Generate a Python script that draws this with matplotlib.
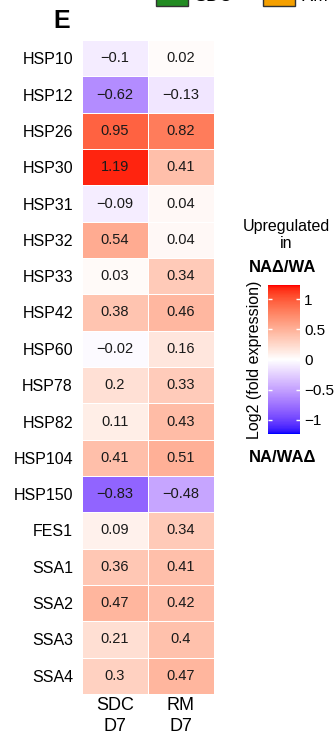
import numpy as np
import matplotlib
matplotlib.use("Agg")
import matplotlib.pyplot as plt
from matplotlib.colors import ListedColormap, Normalize
from matplotlib.cm import ScalarMappable
from matplotlib.patches import Rectangle

plt.rcParams['font.family'] = ['Liberation Sans', 'DejaVu Sans']

genes = ["HSP10", "HSP12", "HSP26", "HSP30", "HSP31", "HSP32", "HSP33", "HSP42",
         "HSP60", "HSP78", "HSP82", "HSP104", "HSP150", "FES1", "SSA1", "SSA2",
         "SSA3", "SSA4"]
conditions = ["SDC\nD7", "RM\nD7"]
sdc_d7 = [-0.1, -0.62, 0.95, 1.19, -0.09, 0.54, 0.03, 0.38, -0.02, 0.2, 0.11,
          0.41, -0.83, 0.09, 0.36, 0.47, 0.21, 0.3]
rm_d7 = [0.02, -0.13, 0.82, 0.41, 0.04, 0.04, 0.34, 0.46, 0.16, 0.33, 0.43,
         0.51, -0.48, 0.34, 0.41, 0.42, 0.4, 0.47]
cbar_ticks = [-1, -0.5, 0, 0.5, 1]
legend_groups = ["SDC", "RM"]
legend_colors = ["#228B22", "#F5A000"]

W, H = 336, 737
fig = plt.figure(figsize=(W / 100, H / 100), dpi=100)


def box(x0, y0, x1, y1):
    """Pixel box (from top-left) -> figure rect."""
    return [x0 / W, 1 - y1 / H, (x1 - x0) / W, (y1 - y0) / H]


def fx(x):
    return x / W


def fy(y):
    return 1 - y / H


# --- blue-white-red ramp interpolated in CIE Lab ---
def _lin(c):
    return np.where(c <= 0.04045, c / 12.92, ((c + 0.055) / 1.055) ** 2.4)


def _gam(c):
    c = np.clip(c, 0, 1)
    return np.where(c <= 0.0031308, 12.92 * c, 1.055 * c ** (1 / 2.4) - 0.055)


_M = np.array([[0.4124, 0.3576, 0.1805], [0.2126, 0.7152, 0.0722], [0.0193, 0.1192, 0.9505]])
_Mi = np.linalg.inv(_M)
_WP = np.array([0.95047, 1.0, 1.08883])


def rgb2lab(rgb):
    xyz = _M @ _lin(np.asarray(rgb, float)) / _WP
    f = np.where(xyz > 0.008856, np.cbrt(xyz), 7.787 * xyz + 16 / 116)
    return np.array([116 * f[1] - 16, 500 * (f[0] - f[1]), 200 * (f[1] - f[2])])


def lab2rgb(lab):
    L, a, b = lab
    fy_ = (L + 16) / 116
    fx_ = fy_ + a / 500
    fz_ = fy_ - b / 200
    f = np.array([fx_, fy_, fz_])
    xyz = np.where(f ** 3 > 0.008856, f ** 3, (f - 16 / 116) / 7.787) * _WP
    return _gam(_Mi @ xyz)


lab_b, lab_w, lab_r = rgb2lab([0, 0, 1]), rgb2lab([1, 1, 1]), rgb2lab([1, 0, 0])
colors = []
for t in np.linspace(0, 1, 256):
    if t < 0.5:
        lab = lab_b + (lab_w - lab_b) * (t / 0.5)
    else:
        lab = lab_w + (lab_r - lab_w) * ((t - 0.5) / 0.5)
    colors.append(lab2rgb(lab))
cmap = ListedColormap(colors)
vlim = 1.24
norm = Normalize(-vlim, vlim)

# --- heatmap ---
data = np.column_stack([sdc_d7, rm_d7])
ax = fig.add_axes(box(82, 40, 214, 694))
ax.pcolormesh(data, cmap=cmap, norm=norm, edgecolors="white", linewidth=0.6)
ax.set_xlim(0, 2)
ax.set_ylim(len(genes), 0)
for i in range(len(genes)):
    for j in range(2):
        v = data[i, j]
        ax.text(j + 0.5, i + 0.5, f"{v:g}".replace("-", "\u2212"),
                ha="center", va="center", fontsize=10.5, color="#1a1a1a")
ax.set_yticks(np.arange(len(genes)) + 0.5)
ax.set_yticklabels(genes, fontsize=11.5)
ax.set_xticks([0.5, 1.5])
ax.set_xticklabels(conditions, fontsize=13, linespacing=1.3)
ax.tick_params(length=0)
ax.tick_params(axis="y", pad=6.5)
ax.tick_params(axis="x", pad=2.5)
for s in ax.spines.values():
    s.set_visible(False)

# --- colour bar ---
cax = fig.add_axes(box(268, 285, 300, 434))
cb = fig.colorbar(ScalarMappable(norm=norm, cmap=cmap), cax=cax, ticks=cbar_ticks)
cb.outline.set_visible(False)
cax.yaxis.set_ticks_position("both")
cax.tick_params(direction="in", length=3, width=1, color="white",
                labelleft=False, labelright=True, labelsize=11, pad=3)
cb.set_ticklabels(["\u22121", "\u22120.5", "0", "0.5", "1"])
fig.text(fx(255), fy(360), "Log2 (fold expression)", rotation=90,
         ha="center", va="center", fontsize=11.5)
fig.text(fx(286), fy(235), "Upregulated\nin", ha="center", va="center",
         fontsize=11.5, linespacing=1.15)
fig.text(fx(283), fy(267), "NA\u0394/WA", ha="center", va="center",
         fontsize=12, fontweight="bold")
fig.text(fx(283), fy(458), "NA/WA\u0394", ha="center", va="center",
         fontsize=12, fontweight="bold")

# --- panel letter ---
fig.text(fx(62), fy(21), "E", ha="center", va="center", fontsize=18,
         fontweight="bold")

# --- group legend along the top edge ---
for (x0, name, col) in zip([156, 263], legend_groups, legend_colors):
    fig.patches.append(Rectangle((fx(x0), fy(6)), 32 / W, 20 / H,
                                 transform=fig.transFigure, facecolor=col,
                                 edgecolor="#333333", linewidth=1))
    fig.text(fx(x0 + 38), fy(-3), name, ha="left", va="center", fontsize=13)

fig.savefig("out.png", dpi=100)
